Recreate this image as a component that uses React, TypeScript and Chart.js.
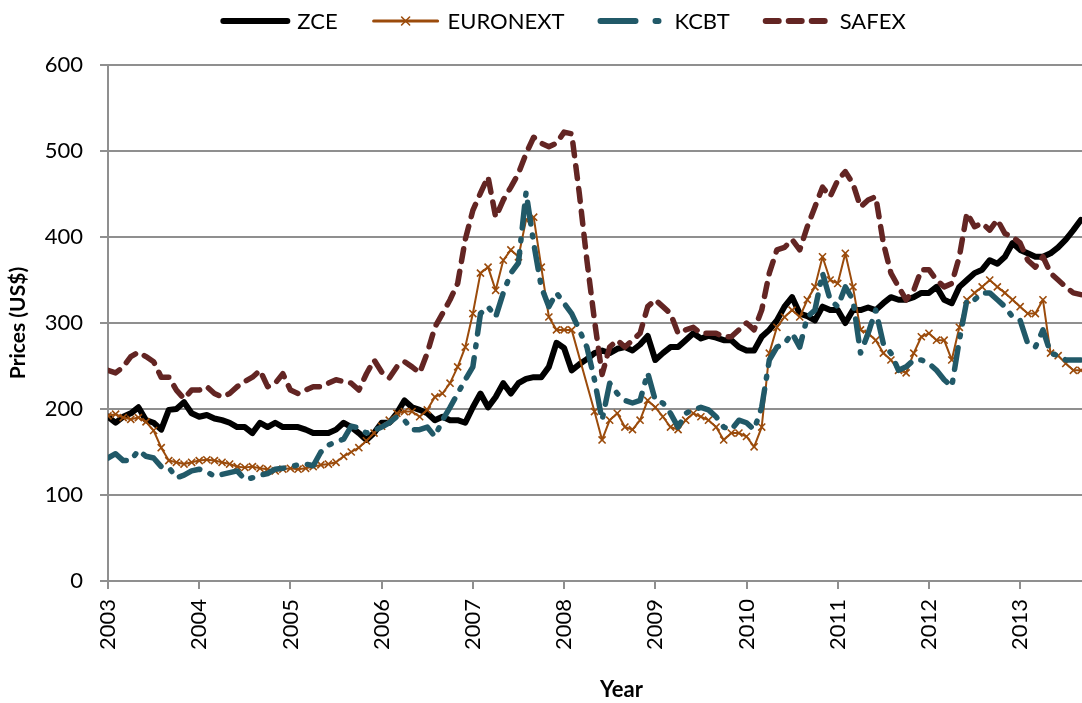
import React, { useEffect, useRef } from 'react';
import { Chart, registerables } from 'chart.js';

Chart.register(...registerables);

// ---- data (monthly, starting January 2003) ----
const START_YEAR = 2003;
const MONTHS_PER_YEAR = 12;

const seriesLabels = ['ZCE', 'EURONEXT', 'KCBT', 'SAFEX'];

const zce = [
  191, 184, 191, 195, 202, 187, 184, 176, 199, 200, 208, 195,
  191, 193, 189, 187, 184, 179, 179, 172, 184, 179, 184, 179,
  179, 179, 176, 172, 172, 172, 176, 184, 179, 172, 164, 172,
  184, 184, 195, 210, 202, 199, 195, 187, 191, 187, 187, 184,
  202, 218, 202, 214, 230, 218, 230, 235, 237, 237, 249, 277,
  271, 245, 252, 258, 265, 268, 265, 270, 272, 268, 275, 285,
  257, 265, 272, 272, 280, 288, 282, 285, 283, 280, 280, 272,
  268, 268, 284, 292, 303, 319, 330, 311, 308, 303, 319, 315,
  315, 300, 315, 315, 318, 315, 323, 330, 327, 327, 330, 335,
  335, 342, 327, 323, 342, 350, 358, 362, 373, 369, 377, 393,
  385, 381, 377, 377, 381, 388, 397, 408, 420,
];

const euronext = [
  192, 194, 190, 188, 190, 185, 175, 155, 140, 138, 136, 138,
  140, 141, 140, 138, 136, 133, 132, 133, 131, 130, 128, 130,
  131, 130, 131, 133, 135, 136, 138, 145, 150, 155, 163, 172,
  180, 187, 195, 197, 197, 191, 199, 214, 218, 230, 249, 272,
  311, 358, 365, 338, 373, 385, 377, 420, 423, 365, 307, 292,
  292, 292, null, null, 197, 164, 187, 195, 179, 176, 187, 210,
  202, 191, 179, 176, 187, 195, 191, 187, 179, 164, 172, 172,
  168, 156, 179, 265, 295, 307, 315, 307, 327, 342, 377, 350,
  346, 381, 342, 292, 288, 280, 265, 257, 245, 242, 265, 284,
  288, 280, 280, 257, 295, 327, 335, 342, 350, 342, 335, 327,
  319, 311, 311, 327, 265, 262, 253, 245, 245,
];

const kcbt = [
  143, 148, 140, 140, 152, 145, 143, 133, 132, 120, 123, 128,
  130, 127, 122, 124, 126, 128, 118, 120, 123, 125, 130, 131,
  133, 135, 136, 134, 150, 158, 162, 165, 180, 178, 172, 175,
  179, 184, 191, 187, 176, 176, 179, 168, 187, 202, 218, 234,
  249, 311, 319, 307, 335, 358, 370, 452, 393, 342, 319, 335,
  323, 311, 292, 272, 234, 187, 230, 218, 210, 207, 210, 242,
  210, 207, 195, 179, 195, 199, 202, 199, 191, 179, 176, 187,
  184, 176, 202, 257, 272, 276, 288, 272, 307, 315, 358, 327,
  319, 342, 327, 265, 288, 315, 276, 265, 245, 249, 257, 257,
  253, 245, 234, 226, 280, 327, 327, 335, 335, 327, 319, 307,
  303, 276, 272, 292, 265, 262, 257, 257, 257,
];

const safex = [
  245, 242, 249, 261, 266, 261, 255, 237, 237, 222, 212, 222,
  222, 226, 218, 214, 218, 226, 232, 237, 245, 226, 230, 241,
  222, 218, 222, 226, 226, 230, 234, 232, 230, 222, 241, 257,
  243, 236, 249, 255, 249, 242, 265, 295, 311, 327, 346, 397,
  431, 451, 470, 423, 443, 458, 474, 497, 516, 509, 505, 509,
  522, 520, 451, 373, 303, 240, 272, 280, 272, 280, 288, 319,
  327, 319, 311, 288, 292, 295, 288, 288, 288, 284, 284, 292,
  300, 292, 315, 358, 385, 388, 397, 385, 412, 435, 458, 447,
  466, 476, 462, 435, 443, 447, 393, 358, 342, 327, 338, 362,
  362, 350, 342, 346, 377, 428, 412, 416, 408, 420, 404, 400,
  393, 373, 365, 377, 358, 350, 342, 335, 333,
];

const yTickValues = [0, 100, 200, 300, 400, 500, 600];

// ---- styles ----
const FONT = 'Lato';
const GRID = '#8f8f8f';
const COLORS = ['#000000', '#9B4B0B', '#215968', '#632523'];

const toPoints = (values: (number | null)[]) =>
  values.map((v, i) => ({ x: START_YEAR + i / MONTHS_PER_YEAR, y: v }));

const legendStyle: Record<string, { width: number; dash: number[]; marker: boolean }> = {
  ZCE: { width: 6, dash: [], marker: false },
  EURONEXT: { width: 3, dash: [], marker: true },
  KCBT: { width: 6, dash: [35, 20, 3, 20], marker: false },
  SAFEX: { width: 6, dash: [13, 10], marker: false },
};

const legendPlugin = {
  id: 'topLegend',
  afterDraw(chart: any) {
    const { ctx } = chart;
    ctx.save();
    ctx.font = `22px ${FONT}`;
    const sample = 70;
    const textGap = 7;
    const itemGap = 33;
    const items = chart.data.datasets.map((ds: any) => ({
      ds,
      tw: ctx.measureText(ds.label).width,
    }));
    const total =
      items.reduce((s: number, it: any) => s + sample + textGap + it.tw, 0) +
      itemGap * (items.length - 1);
    let x = 563 - total / 2;
    const y = 21;
    for (const it of items) {
      const ds = it.ds;
      const st = legendStyle[ds.label];
      ctx.save();
      ctx.strokeStyle = ds.borderColor;
      ctx.lineWidth = st.width;
      ctx.lineCap = 'round';
      ctx.setLineDash(st.dash);
      ctx.beginPath();
      ctx.moveTo(x + 3, y);
      ctx.lineTo(x + sample - 3, y);
      ctx.stroke();
      if (st.marker) {
        ctx.setLineDash([]);
        ctx.lineWidth = 1.6;
        const cx = x + sample / 2;
        ctx.beginPath();
        ctx.moveTo(cx - 4, y - 4);
        ctx.lineTo(cx + 4, y + 4);
        ctx.moveTo(cx - 4, y + 4);
        ctx.lineTo(cx + 4, y - 4);
        ctx.stroke();
      }
      ctx.restore();
      ctx.fillStyle = '#000';
      ctx.textBaseline = 'alphabetic';
      ctx.textAlign = 'left';
      ctx.fillText(ds.label, x + sample + textGap, y + 8);
      x += sample + textGap + it.tw + itemGap;
    }
    ctx.restore();
  },
};

export default function App() {
  const canvasRef = useRef<HTMLCanvasElement | null>(null);

  useEffect(() => {
    const canvas = canvasRef.current;
    if (!canvas) return;
    Chart.defaults.font.family = FONT;
    Chart.defaults.color = '#000';

    const allSeries = [zce, euronext, kcbt, safex];
    const chart = new Chart(canvas, {
      type: 'line',
      data: {
        datasets: seriesLabels.map((label, i) => {
          const base: any = {
            label,
            data: toPoints(allSeries[i]),
            borderColor: COLORS[i],
            backgroundColor: COLORS[i],
            fill: false,
            tension: 0,
            spanGaps: true,
            borderJoinStyle: 'round',
            pointRadius: 0,
            pointHoverRadius: 0,
            order: 3 - i,
          };
          if (label === 'ZCE') {
            base.borderWidth = 6;
            base.borderCapStyle = 'round';
          } else if (label === 'EURONEXT') {
            base.borderWidth = 2;
            base.pointStyle = 'crossRot';
            base.pointRadius = 5;
            base.pointBorderWidth = 1.6;
            base.pointBorderColor = COLORS[i];
          } else if (label === 'KCBT') {
            base.borderWidth = 5.5;
            base.borderDash = [22, 11, 2, 11];
            base.borderCapStyle = 'round';
          } else {
            base.borderWidth = 5.5;
            base.borderDash = [13, 10];
            base.borderCapStyle = 'round';
          }
          return base;
        }),
      },
      options: {
        responsive: false,
        animation: false,
        events: [],
        layout: { padding: { top: 65, left: 0, right: 10, bottom: 0 } },
        plugins: {
          legend: { display: false },
          tooltip: { enabled: false },
        },
        scales: {
          x: {
            type: 'linear',
            min: 2003,
            max: 2014.26,
            afterFit: (s: any) => {
              s.height = 122;
            },
            grid: {
              drawOnChartArea: false,
              drawTicks: true,
              tickLength: 8,
              color: GRID,
              lineWidth: 2,
            },
            border: { color: GRID, width: 2 },
            ticks: {
              stepSize: 1,
              includeBounds: false,
              autoSkip: false,
              minRotation: 90,
              maxRotation: 90,
              padding: 10,
              color: '#000',
              font: { size: 22, family: FONT },
              callback: (v: any) => String(v),
            },
            title: {
              display: true,
              text: 'Year',
              color: '#000',
              font: { size: 22, weight: 'bold', family: FONT },
              padding: { top: 0, bottom: 0 },
            },
          },
          y: {
            type: 'linear',
            min: 0,
            max: 600,
            afterFit: (s: any) => {
              s.width = 108;
            },
            afterBuildTicks: (s: any) => {
              s.ticks = yTickValues.map((v) => ({ value: v }));
            },
            grid: { color: GRID, lineWidth: 2, tickLength: 8, drawTicks: true },
            border: { color: GRID, width: 2 },
            ticks: {
              padding: 17,
              color: '#000',
              font: { size: 22, family: FONT },
            },
            title: {
              display: true,
              text: 'Prices (US$)',
              color: '#000',
              font: { size: 21, weight: 'bold', family: FONT },
              padding: { top: 6, bottom: 0 },
            },
          },
        },
      },
      plugins: [legendPlugin],
    } as any);

    return () => {
      chart.destroy();
    };
  }, []);

  return (
    <div
      style={{
        position: 'absolute',
        left: 0,
        top: 0,
        width: 1082,
        height: 703,
        overflow: 'hidden',
        background: '#ffffff',
      }}
    >
      <canvas ref={canvasRef} width={1148} height={703} style={{ display: 'block' }} />
    </div>
  );
}
